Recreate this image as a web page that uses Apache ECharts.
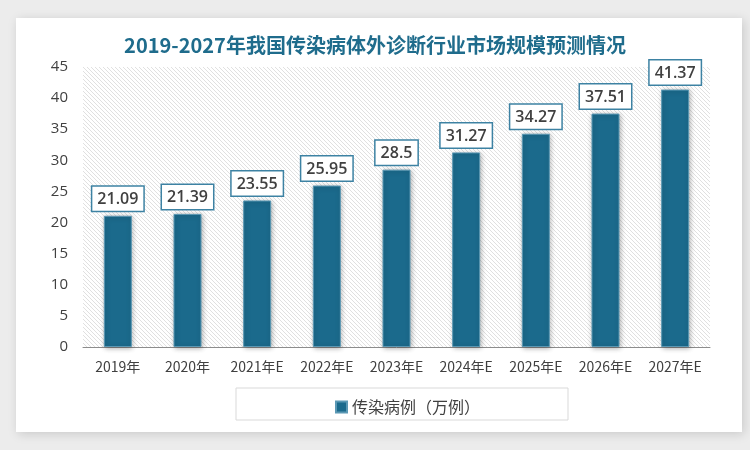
<!DOCTYPE html>
<html><head><meta charset="utf-8">
<script src="https://cdn.jsdelivr.net/npm/echarts@6/dist/echarts.min.js"></script>
<style>html,body{margin:0;padding:0;background:#ececec;}#c{width:750px;height:450px;}</style>
</head><body><div id="c"></div>
<script>
const categories = ['2019年','2020年','2021年E','2022年E','2023年E','2024年E','2025年E','2026年E','2027年E'];
const values = [21.09, 21.39, 23.55, 25.95, 28.5, 31.27, 34.27, 37.51, 41.37];
const seriesName = '传染病例（万例）';
const titleText = '2019-2027年我国传染病体外诊断行业市场规模预测情况';

const pc = document.createElement('canvas');
pc.width = 4; pc.height = 4;
const g = pc.getContext('2d');
g.fillStyle = '#ffffff'; g.fillRect(0,0,4,4);
g.strokeStyle = '#e0e0e0'; g.lineWidth = 1;
g.beginPath();
for (let k=-4;k<=4;k+=4){ g.moveTo(k,0); g.lineTo(k+4,4); }
g.stroke();

const chart = echarts.init(document.getElementById('c'));
const font = '"Noto Sans CJK SC", "Liberation Sans", sans-serif';
chart.setOption({
  backgroundColor: '#ececec',
  graphic: [{
    type: 'rect', z: -10, silent: true,
    shape: {x: 16, y: 18, width: 726, height: 414},
    style: {fill: '#ffffff', shadowBlur: 10, shadowColor: 'rgba(0,0,0,0.15)', shadowOffsetX: 2, shadowOffsetY: 2}
  }, {
    type: 'rect', z: -5, silent: true,
    shape: {x: 236, y: 388, width: 332, height: 32},
    style: {fill: '#ffffff', stroke: '#d9d9d9', lineWidth: 1}
  }],
  title: {
    text: titleText, left: 'center', top: 30,
    textStyle: {color: '#1f6c8c', fontSize: 20, fontWeight: 'bold', fontFamily: font}
  },
  grid: {left: 83, right: 40, top: 67, bottom: 103, show: true, borderWidth: 0,
    backgroundColor: {image: pc, repeat: 'repeat'}},
  legend: {
    data: [seriesName], left: 330, top: 394, itemWidth: 11, itemHeight: 11, icon: 'rect',
    textStyle: {color: '#404040', fontSize: 16, fontFamily: font}
  },
  xAxis: {
    type: 'category', data: categories,
    axisLine: {lineStyle: {color: '#8c8c8c', width: 1}},
    axisTick: {show: false},
    axisLabel: {color: '#404040', fontSize: 14, margin: 13, interval: 0, fontFamily: font}
  },
  yAxis: {
    type: 'value', min: 0, max: 45, interval: 5,
    axisLine: {show: false}, axisTick: {show: false},
    splitLine: {show: false},
    axisLabel: {color: '#404040', fontSize: 15, margin: 15, fontFamily: '"Open Sans", sans-serif'}
  },
  series: [{
    name: seriesName, type: 'bar', data: values, barWidth: 28,
    itemStyle: {color: '#1b6a8c', borderColor: '#5b98b4', borderWidth: 1,
      shadowColor: 'rgba(0,0,0,0.3)', shadowBlur: 5, shadowOffsetX: 1, shadowOffsetY: 1},
    label: {
      show: true, position: 'top', distance: 5,
      color: '#404040', fontSize: 16, fontWeight: 600, fontFamily: '"Open Sans", sans-serif',
      backgroundColor: '#ffffff', borderColor: '#3d82a3', borderWidth: 1.5,
      padding: [5, 5, 3, 5]
    }
  }]
});
</script></body></html>
